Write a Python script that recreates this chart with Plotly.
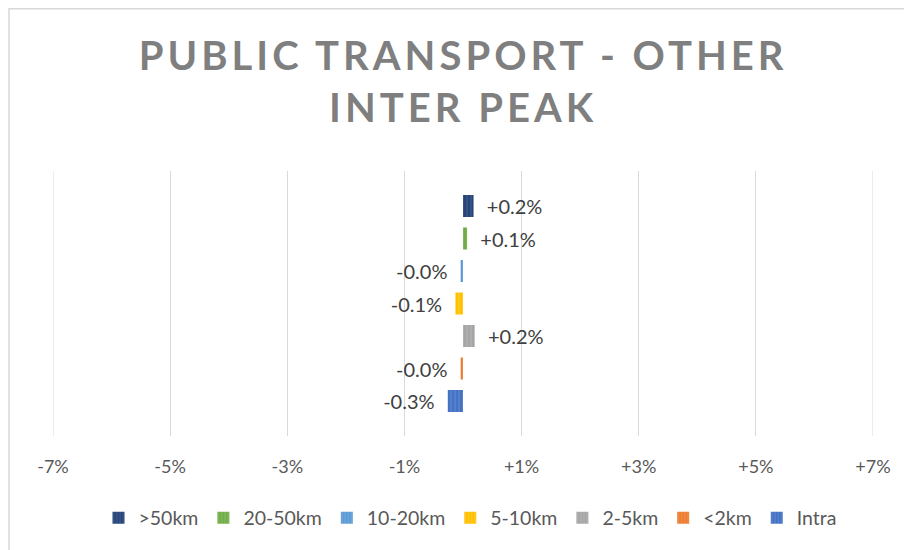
import plotly.graph_objects as go

# Series (listed bottom to top as drawn)
series_names = ["Intra", "<2km", "2-5km", "5-10km", "10-20km", "20-50km", ">50km"]
series_values = [-0.0026, -0.0004, 0.0020, -0.0013, -0.0004, 0.0007, 0.0018]
series_colors = ["#4472C4", "#ED7D31", "#A5A5A5", "#FFC000", "#5B9BD5", "#70AD47", "#264478"]
stripe_colors = ["#7A9BD8", "#F3A36C", "#C6C6C6", "#FFD766", "#8DBBE3", "#9CC981", "#5A73A0"]
category = ["Public transport - other"]

tick_values = [-0.07, -0.05, -0.03, -0.01, 0.01, 0.03, 0.05, 0.07]
tick_labels = ["-7%", "-5%", "-3%", "-1%", "+1%", "+3%", "+5%", "+7%"]

FONT = "Lato"
NB = "\u00a0"
GRID = "#D9D9D9"

# page is shown with an 8px body margin, so the figure is laid out 8px up/left
L, R, T, B = 45, 47, 163, 122
PW, PH = 912 - L - R, 550 - T - B

fig = go.Figure()
for name, val, col, sc in zip(series_names, series_values, series_colors, stripe_colors):
    lab = f"{val*100:+.1f}%"
    lab = (NB * 2 + lab) if val >= 0 else (lab + NB * 2)
    fig.add_trace(go.Bar(
        y=category, x=[val], name=name, orientation="h",
        marker=dict(color=col, line=dict(width=0),
                    pattern=dict(shape="|", fgcolor=sc, bgcolor=col, size=4, solidity=0.3)),
        text=[lab], textposition="outside", constraintext="none", cliponaxis=False,
        textfont=dict(family=FONT, size=20, color="#404040"),
        hoverinfo="skip",
    ))

# gridlines on the two range edges (plotly drops them at the plot border)
edge_grid = [dict(type="line", xref="x", yref="paper", x0=v, x1=v, y0=0, y1=1,
                  line=dict(color=GRID, width=1), layer="below")
             for v in (tick_values[0], tick_values[-1])]

fig.update_layout(
    width=912, height=550,
    margin=dict(l=L, r=R, t=T, b=B, pad=0),
    paper_bgcolor="white", plot_bgcolor="white",
    barmode="group", bargap=0.1415, bargroupgap=0.323,
    title=dict(
        text='<span style="letter-spacing:4px">PUBLIC TRANSPORT - OTHER</span><br>'
             '<span style="letter-spacing:4px">INTER PEAK</span>',
        x=0.499, xanchor="center", xref="container",
        y=1 - 62 / 550, yanchor="top", yref="container",
        font=dict(family=FONT, size=40, color="#7F7F7F", weight="bold"),
    ),
    xaxis=dict(
        range=[tick_values[0], tick_values[-1]], tickvals=tick_values, ticktext=tick_labels,
        showgrid=True, gridcolor=GRID, gridwidth=1, zeroline=False,
        showline=False, ticks="", ticklabelstandoff=18,
        tickfont=dict(family=FONT, size=18, color="#595959"),
        fixedrange=True,
    ),
    yaxis=dict(showticklabels=False, showgrid=False, zeroline=False, showline=False,
               ticks="", range=[-0.5, 0.5], fixedrange=True),
    showlegend=True,
    legend=dict(
        orientation="h", traceorder="reversed",
        x=(462 - L) / PW, xanchor="center", y=-0.31, yanchor="middle",
        font=dict(family=FONT, size=19.5, color="#595959"),
        bgcolor="rgba(0,0,0,0)",
    ),
    shapes=edge_grid + [dict(type="rect", xref="paper", yref="paper",
                 x0=(1 - L) / PW, x1=1.2, y0=-0.6, y1=(PH + T - 0.75) / PH,
                 line=dict(color=GRID, width=1.5), fillcolor="rgba(0,0,0,0)",
                 layer="below")],
)

fig.write_html("out.html")
